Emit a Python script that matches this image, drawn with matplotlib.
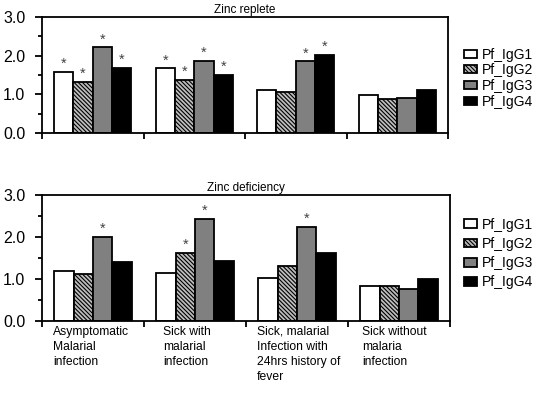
import matplotlib
matplotlib.use("Agg")
import matplotlib.pyplot as plt
import numpy as np

plt.rcParams['font.family'] = ['Liberation Sans', 'DejaVu Sans']
plt.rcParams['hatch.linewidth'] = 0.8

categories = ["Asymptomatic\nMalarial\ninfection",
              "Sick with\nmalarial\ninfection",
              "Sick, malarial\nInfection with\n24hrs history of\nfever",
              "Sick without\nmalaria\ninfection"]
series = ["Pf_IgG1", "Pf_IgG2", "Pf_IgG3", "Pf_IgG4"]

replete = {
    "Pf_IgG1": [1.58, 1.67, 1.11, 0.97],
    "Pf_IgG2": [1.32, 1.37, 1.07, 0.87],
    "Pf_IgG3": [2.22, 1.87, 1.86, 0.90],
    "Pf_IgG4": [1.68, 1.50, 2.03, 1.10],
}
replete_sig = {
    "Pf_IgG1": [1, 1, 0, 0],
    "Pf_IgG2": [1, 1, 0, 0],
    "Pf_IgG3": [1, 1, 1, 0],
    "Pf_IgG4": [1, 1, 1, 0],
}
deficiency = {
    "Pf_IgG1": [1.18, 1.14, 1.03, 0.83],
    "Pf_IgG2": [1.13, 1.62, 1.30, 0.83],
    "Pf_IgG3": [2.00, 2.43, 2.24, 0.77],
    "Pf_IgG4": [1.40, 1.44, 1.62, 0.99],
}
deficiency_sig = {
    "Pf_IgG1": [0, 0, 0, 0],
    "Pf_IgG2": [0, 1, 0, 0],
    "Pf_IgG3": [1, 1, 1, 0],
    "Pf_IgG4": [0, 0, 0, 0],
}

styles = {
    "Pf_IgG1": dict(facecolor="white", hatch=None),
    "Pf_IgG2": dict(facecolor="#bdbdbd", hatch="\\\\\\\\\\\\\\\\"),
    "Pf_IgG3": dict(facecolor="#808080", hatch=None),
    "Pf_IgG4": dict(facecolor="black", hatch=None),
}

fig = plt.figure(figsize=(5.36, 3.94), dpi=100)
ax1 = fig.add_axes([42/536, 1-133/394, 406/536, 116/394])
ax2 = fig.add_axes([42/536, 1-321/394, 408/536, 126/394])

bw = 0.19
x = np.arange(len(categories))

def draw(ax, data, sig, title, legend_y, legend_spacing, hh):
    handles = []
    for j, s in enumerate(series):
        pos = x - 1.5*bw + j*bw
        st = styles[s]
        b = ax.bar(pos, data[s], width=bw, facecolor=st["facecolor"],
                   edgecolor="black", linewidth=1.3, hatch=st["hatch"], label=s)
        handles.append(b)
        for p, v, f in zip(pos, data[s], sig[s]):
            if f:
                ax.text(p, v + 0.02, "*", ha="center", va="bottom",
                        fontsize=10.5, color="#444444")
    ax.set_xlim(-0.5, len(categories) - 0.5)
    ax.set_ylim(0, 3.0)
    ax.set_yticks([0, 1, 2, 3])
    ax.set_yticklabels(["0.0", "1.0", "2.0", "3.0"], fontsize=11.5)
    ax.set_yticks([0.5, 1.5, 2.5], minor=True)
    ax.set_xticks(np.arange(-0.5, len(categories), 1.0))
    ax.set_xticklabels([])
    ax.tick_params(axis="y", which="major", length=5, width=1.3, direction="out", pad=7)
    ax.tick_params(axis="y", which="minor", length=3, width=1.3, direction="out")
    ax.tick_params(axis="x", length=4, width=1.3, direction="out")
    for sp in ax.spines.values():
        sp.set_linewidth(1.3)
    ax.set_title(title, fontsize=8.5, pad=3)
    ax.legend(handles=handles, loc="upper left", bbox_to_anchor=(458/536, legend_y),
              bbox_transform=fig.transFigure, frameon=False, fontsize=10,
              handlelength=1.0, handleheight=hh, handletextpad=0.35,
              labelspacing=legend_spacing, borderaxespad=0)

draw(ax1, replete, replete_sig, "Zinc replete", 1-42/394, 0.12, 0.5)
draw(ax2, deficiency, deficiency_sig, "Zinc deficiency", 1-212/394, 0.38, 0.6)

label_offsets = [-0.39, -0.31, -0.39, -0.36]
for i, c in enumerate(categories):
    ax2.text(i + label_offsets[i], -0.11, c, ha="left", va="top", fontsize=8.7,
             linespacing=1.35, transform=ax2.transData)

fig.savefig("out.png", dpi=100)
